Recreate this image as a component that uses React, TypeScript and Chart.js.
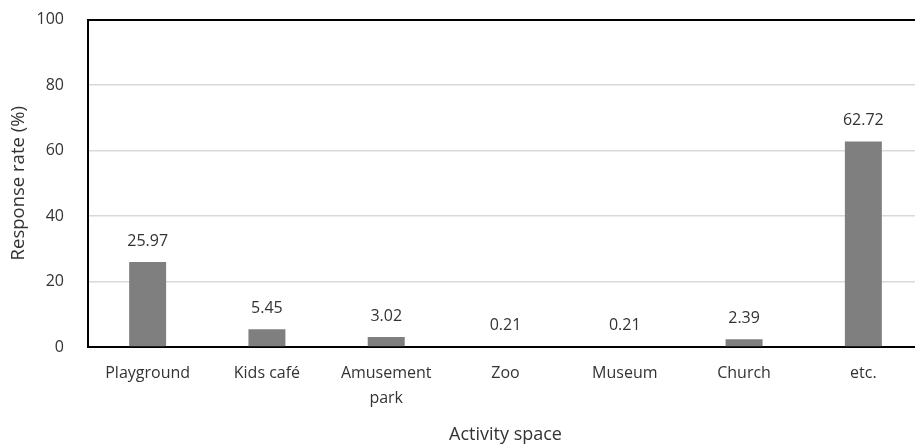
import React, { useEffect, useRef } from "react";
import { Chart, registerables } from "chart.js";

Chart.register(...registerables);

const categories: (string | string[])[] = [
  "Playground",
  "Kids café",
  ["Amusement", "park"],
  "Zoo",
  "Museum",
  "Church",
  "etc.",
];
const responseRates = [25.97, 5.45, 3.02, 0.21, 0.21, 2.39, 62.72];
const yTicks = [0, 20, 40, 60, 80, 100];

const FONT = "'Open Sans', 'Noto Sans', sans-serif";
const TEXT = "#333333";

// Writes each bar's value a little above its top edge.
const valueLabels = {
  id: "valueLabels",
  afterDatasetsDraw(chart: Chart) {
    const { ctx } = chart;
    const meta = chart.getDatasetMeta(0);
    ctx.save();
    ctx.font = `16px ${FONT}`;
    ctx.fillStyle = TEXT;
    ctx.textAlign = "center";
    ctx.textBaseline = "middle";
    meta.data.forEach((el: any, i: number) => {
      const v = responseRates[i];
      ctx.fillText(v.toFixed(2), el.x, el.y - 21);
    });
    ctx.restore();
  },
};

export default function App() {
  const ref = useRef<HTMLCanvasElement>(null);

  useEffect(() => {
    document.body.style.margin = "0";
    const canvas = ref.current!;
    const chart = new Chart(canvas, {
      type: "bar",
      data: {
        labels: categories,
        datasets: [
          {
            data: responseRates,
            backgroundColor: "#7f7f7f",
            borderWidth: 0,
            categoryPercentage: 1,
            barPercentage: 0.31,
          },
        ],
      },
      options: {
        responsive: false,
        animation: false,
        devicePixelRatio: 1,
        layout: { padding: { top: 19.5, right: 1, left: 0, bottom: 0 } },
        plugins: {
          legend: { display: false },
          tooltip: { enabled: false },
        },
        scales: {
          x: {
            grid: { display: false, drawTicks: false },
            border: { display: true, color: "#000000", width: 2 },
            ticks: {
              color: TEXT,
              font: { family: FONT, size: 16, lineHeight: 1.55 },
              padding: 14,
              maxRotation: 0,
              autoSkip: false,
            },
            title: {
              display: true,
              text: "Activity space",
              color: TEXT,
              font: { family: FONT, size: 18, lineHeight: 1 },
              padding: { top: 0, bottom: 0 },
            },
            afterFit(scale: any) {
              scale.height = 97;
              scale.paddingLeft = 0;
              scale.paddingRight = 0;
            },
          },
          y: {
            min: 0,
            max: 100,
            afterBuildTicks(scale: any) {
              scale.ticks = yTicks.map((v) => ({ value: v }));
            },
            grid: {
              drawTicks: false,
              color: (c: any) =>
                c.tick && c.tick.value === 100 ? "#000000" : "#d9d9d9",
              lineWidth: (c: any) => (c.tick && c.tick.value === 100 ? 2 : 1.5),
            },
            border: { display: true, color: "#000000", width: 2 },
            ticks: {
              color: TEXT,
              font: { family: FONT, size: 16 },
              padding: 24,
            },
            title: {
              display: true,
              text: "Response rate (%)",
              color: TEXT,
              font: { family: FONT, size: 18.5 },
              padding: { top: 8, bottom: 0 },
            },
            afterFit(scale: any) {
              scale.width = 88;
              scale.paddingTop = 0;
              scale.paddingBottom = 0;
            },
          },
        },
      },
      plugins: [valueLabels],
    });
    return () => chart.destroy();
  }, []);

  return (
    <div style={{ width: 915, height: 444, overflow: "hidden", background: "#fff" }}>
      <canvas ref={ref} width={924} height={444} style={{ display: "block" }} />
    </div>
  );
}
